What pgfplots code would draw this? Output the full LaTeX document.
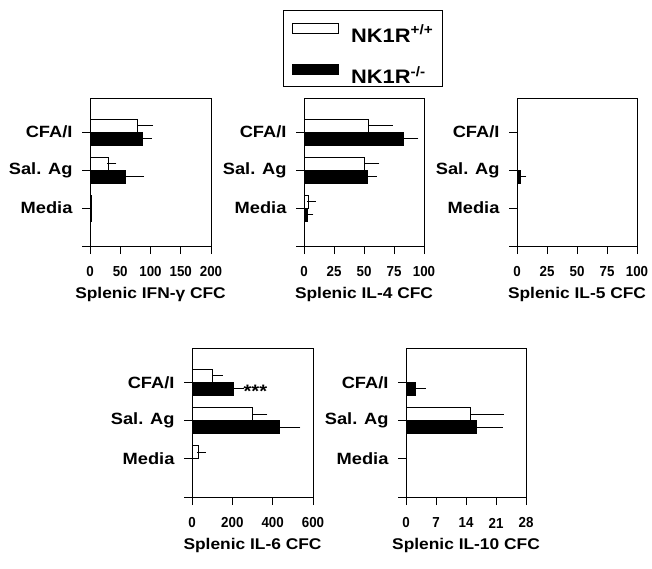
\documentclass[border=0pt]{standalone}
\usepackage{fontspec}
\setmainfont{Liberation Sans}[FakeStretch=1.12]
\newfontfamily\tickfont{Liberation Sans}[FakeStretch=0.92]
\usepackage{pgfplots}
\pgfplotsset{compat=1.18}
\pgfplotsset{
  panel/.style={
    scale only axis, width=120pt, height=148pt,
    xbar, ymin=0, ymax=3.9, xmin=0,
    enlargelimits=false,
    ytick={1,2,3}, yticklabels={Media,Sal. Ag,CFA/I},
    bar width=0.34,
    tick align=outside, major tick length=8pt,
    xtick pos=bottom, ytick pos=left,
    axis line style={line width=0.8pt},
    tick style={line width=0.7pt, black},
    /pgf/number format/assume math mode=true,
    xticklabel style={font=\tickfont\fontsize{14.5}{15}\selectfont\bfseries, anchor=center, yshift=-18pt},
    yticklabel style={font=\fontsize{16.3}{17}\selectfont\bfseries, anchor=east, xshift=-6pt},
    xlabel style={font=\fontsize{15.5}{16}\selectfont\bfseries, at={(axis description cs:0.5,0)}, anchor=center, yshift=-48pt},
    clip=false,
    legend image code/.code={\draw[#1,line width=0.8pt] (0pt,-5.5pt) rectangle (46pt,4.5pt);},
  },
  wbar/.style={fill=white, draw=black, line width=0.8pt, bar shift=0.17,
    error bars/.cd, x dir=plus, x explicit,
    error bar style={line width=0.8pt, black},
    error mark options={line width=0.8pt, mark size=4.5pt, black}},
  bbar/.style={fill=black, draw=black, line width=0.8pt, bar shift=-0.17,
    error bars/.cd, x dir=plus, x explicit,
    error bar style={line width=0.8pt, black},
    error mark options={line width=0.8pt, mark size=4.5pt, black}},
  extline/.style={execute at end axis={\draw[line width=0.8pt] (rel axis cs:0,0) -- ++(-8pt,0);}},
}
\begin{document}
\begin{tikzpicture}
\useasboundingbox (0,0) rectangle (652pt,-569pt);
% IFN-gamma
\begin{axis}[panel, extline, at={(90pt,-246pt)}, anchor=south west, width=121pt,
  xmax=200, xtick={0,50,100,150,200}, xlabel={Splenic IFN-γ CFC}]
\addplot+[wbar] coordinates {(78,3) +- (19,0) (30,2) +- (6,0) (2,1) +- (0,0)};
\addplot+[bbar] coordinates {(87,3) +- (8,0) (58,2) +- (24,0) (3,1) +- (0,0)};
\end{axis}
% IL-4
\begin{axis}[panel, extline, at={(304pt,-246pt)}, anchor=south west,
  xmax=100, xtick={0,25,50,75,100}, xlabel={Splenic IL-4 CFC},
  legend style={at={(-0.175,1.595)}, anchor=north west, draw=black, line width=0.8pt,
    font=\fontsize{19.5}{20}\selectfont\bfseries, inner xsep=9pt, inner ysep=1pt, row sep=9pt,
    nodes={inner sep=0pt},
    /tikz/every odd column/.append style={column sep=12pt}},
  legend cell align=left]
\addplot+[wbar] coordinates {(53.5,3) +- (16.5,0) (50,2) +- (9,0) (3.5,1) +- (2.5,0)};
\addplot+[bbar] coordinates {(82.5,3) +- (9,0) (52.5,2) +- (4.5,0) (3,1) +- (1,0)};
\legend{\rule{0pt}{31pt}NK1R\textsuperscript{+/+}, \rule{0pt}{31pt}NK1R\textsuperscript{-/-}}
\end{axis}
% IL-5
\begin{axis}[panel, extline, at={(517pt,-246pt)}, anchor=south west,
  xmax=100, xtick={0,25,50,75,100}, xlabel={Splenic IL-5 CFC}]
\addplot+[bbar] coordinates {(2.5,2) +- (1.5,0)};
\end{axis}
% IL-6
\begin{axis}[panel, extline, at={(192pt,-497pt)}, anchor=south west, width=121pt, height=149pt,
  xmax=600, xtick={0,200,400,600}, xlabel={Splenic IL-6 CFC}]
\addplot+[wbar] coordinates {(100,3) +- (30,0) (298,2) +- (54,0) (30,1) +- (15,0)};
\addplot+[bbar] coordinates {(205,3) +- (32,0) (432,2) +- (83,0) (3,1) +- (0,0)};
\node[anchor=west, inner sep=0pt, font=\fontsize{18}{18}\selectfont\bfseries] at (axis cs:255,2.76) {***};
\end{axis}
% IL-10
\begin{axis}[panel, extline, at={(406pt,-497pt)}, anchor=south west, height=149pt,
  xmax=28, xtick={0,7,14,21,28}, xlabel={Splenic IL-10 CFC}]
\addplot+[wbar] coordinates {(15,2) +- (6.7,0)};
\addplot+[bbar] coordinates {(2.3,3) +- (1.2,0) (16.5,2) +- (5,0)};
\end{axis}
\end{tikzpicture}
\end{document}
